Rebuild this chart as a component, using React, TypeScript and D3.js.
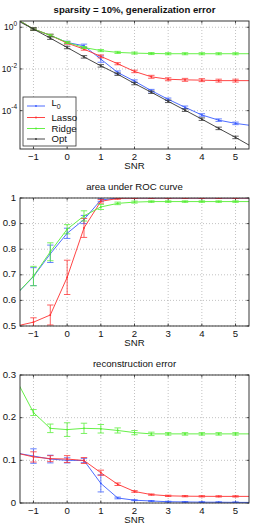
import React from "react";
import * as d3 from "d3";

const snr = [-1.5, -1, -0.5, 0, 0.5, 1, 1.5, 2, 2.5, 3, 3.5, 4, 4.5, 5, 5.5];
const xTicks = [-1, 0, 1, 2, 3, 4, 5];

// Panel 1: generalization error (log scale)
const genL0 = [2.5, 0.82, 0.41, 0.186, 0.129, 0.0295, 0.0068, 0.0026, 9.1e-4, 3.5e-4, 1.45e-4, 6.2e-5, 3.5e-5, 2.45e-5, 1.9e-5];
const genLasso = [2.5, 0.82, 0.41, 0.174, 0.089, 0.04, 0.0178, 0.0076, 0.0042, 0.0032, 0.003, 0.0029, 0.00275, 0.00275, 0.00275];
const genRidge = [2.5, 0.82, 0.41, 0.186, 0.107, 0.076, 0.062, 0.0575, 0.055, 0.0537, 0.0537, 0.0537, 0.0537, 0.0537, 0.0537];
const genOpt = [2.19, 0.82, 0.3, 0.107, 0.038, 0.0141, 0.0056, 0.002, 7.6e-4, 2.8e-4, 1.05e-4, 3.9e-5, 1.41e-5, 5.2e-6, 1.8e-6];
// error half-widths in decades
const genL0Err = [0, 0.05, 0.05, 0.06, 0.08, 0.15, 0.07, 0.06, 0.06, 0.06, 0.06, 0.06, 0.06, 0.06, 0];
const genLassoErr = [0, 0.05, 0.05, 0.05, 0.05, 0.07, 0.05, 0.06, 0.07, 0.07, 0.07, 0.07, 0.07, 0.07, 0];
const genRidgeErr = [0, 0.05, 0.05, 0.05, 0.05, 0.05, 0.05, 0.05, 0.05, 0.05, 0.05, 0.05, 0.05, 0.05, 0];
const genOptErr = [0, 0.06, 0.06, 0.06, 0.06, 0.06, 0.06, 0.06, 0.06, 0.06, 0.06, 0.06, 0.06, 0.06, 0];
const genYTicks = [1e-4, 1e-2, 1];
const genYTickExp = ["-4", "-2", "0"];

// Panel 2: area under ROC curve
const aucL0 = [0.625, 0.693, 0.782, 0.862, 0.916, 0.992, 1, 1, 1, 1, 1, 1, 1, 1, 1];
const aucLasso = [0.5, 0.515, 0.543, 0.69, 0.883, 0.987, 0.998, 1, 1, 1, 1, 1, 1, 1, 1];
const aucRidge = [0.625, 0.695, 0.79, 0.878, 0.93, 0.965, 0.979, 0.984, 0.986, 0.986, 0.986, 0.986, 0.986, 0.986, 0.986];
const aucL0Err = [0, 0.035, 0.034, 0.02, 0.016, 0.005, 0.002, 0.001, 0.001, 0.001, 0.001, 0.001, 0.001, 0.001, 0];
const aucLassoErr = [0, 0.017, 0.039, 0.067, 0.037, 0.007, 0.003, 0.002, 0.001, 0.001, 0.001, 0.001, 0.001, 0.001, 0];
const aucRidgeErr = [0, 0.038, 0.035, 0.018, 0.02, 0.01, 0.005, 0.004, 0.003, 0.003, 0.003, 0.003, 0.003, 0.003, 0];
const aucYTicks = [0.5, 0.6, 0.7, 0.8, 0.9, 1];
const aucYLabels = ["0.5", "0.6", "0.7", "0.8", "0.9", "1"];

// Panel 3: reconstruction error
const recL0 = [0.117, 0.11, 0.103, 0.1, 0.0996, 0.046, 0.0118, 0.0065, 0.0047, 0.003, 0.0025, 0.002, 0.0018, 0.0015, 0.0013];
const recLasso = [0.117, 0.108, 0.104, 0.103, 0.0996, 0.071, 0.044, 0.027, 0.0197, 0.0168, 0.016, 0.0157, 0.0155, 0.0155, 0.0155];
const recRidge = [0.287, 0.212, 0.175, 0.172, 0.175, 0.174, 0.17, 0.165, 0.162, 0.162, 0.162, 0.162, 0.162, 0.162, 0.162];
const recL0Err = [0, 0.017, 0.009, 0.006, 0.005, 0.02, 0.002, 0.001, 0.001, 0.001, 0.001, 0.001, 0.001, 0.001, 0];
const recLassoErr = [0, 0.012, 0.007, 0.008, 0.007, 0.006, 0.003, 0.002, 0.0015, 0.0015, 0.0015, 0.0015, 0.0015, 0.0015, 0];
const recRidgeErr = [0, 0.007, 0.01, 0.016, 0.012, 0.01, 0.006, 0.005, 0.004, 0.003, 0.003, 0.003, 0.003, 0.003, 0];
const recYTicks = [0, 0.1, 0.2, 0.3];
const recYLabels = ["0", "0.1", "0.2", "0.3"];

const titles = ["sparsity = 10%, generalization error", "area under ROC curve", "reconstruction error"];
const legendNames = ["L", "Lasso", "Ridge", "Opt"];

const C_BLUE = "#3a5cff";
const C_RED = "#ff3030";
const C_GREEN = "#55ee33";
const C_BLACK = "#333333";

const FONT = "'Liberation Sans', Arial, Helvetica, sans-serif";
const L = 20, R = 249, H = 128;
const tops = [21, 198, 375];

const x = d3.scaleLinear().domain([-1.4, 5.4]).range([L, R]);

type Series = { vals: number[]; err: number[]; color: string; log?: boolean };

function SeriesG({ s, y, clip }: { s: Series; y: any; clip: string }) {
  const line = d3.line<number>().x((_, i) => x(snr[i])).y((v) => y(v));
  const lo = (v: number, e: number) => (s.log ? v * Math.pow(10, -e) : v - e);
  const hi = (v: number, e: number) => (s.log ? v * Math.pow(10, e) : v + e);
  return (
    <g clipPath={`url(#${clip})`}>
      <path d={line(s.vals) || ""} fill="none" stroke={s.color} strokeWidth={0.9} />
      {s.vals.map((v, i) => {
        const e = s.err[i];
        if (!e) return null;
        const cx = x(snr[i]);
        const y1 = y(lo(v, e));
        const y2 = y(hi(v, e));
        return (
          <g key={i} stroke={s.color} strokeWidth={0.9} opacity={0.85}>
            <line x1={cx} x2={cx} y1={y1} y2={y2} />
            <line x1={cx - 3.2} x2={cx + 3.2} y1={y1} y2={y1} />
            <line x1={cx - 3.2} x2={cx + 3.2} y1={y2} y2={y2} />
          </g>
        );
      })}
      {s.vals.map((v, i) => (
        <circle key={"m" + i} cx={x(snr[i])} cy={y(v)} r={0.9} fill={s.color} />
      ))}
    </g>
  );
}

function Panel({ idx, y, yTicks, yLabel, series, bold }: any) {
  const top = tops[idx];
  const bottom = top + H;
  const clip = "clip" + idx;
  return (
    <g>
      <defs>
        <clipPath id={clip}>
          <rect x={L} y={top} width={R - L} height={H} />
        </clipPath>
      </defs>
      <rect x={L} y={top} width={R - L} height={H} fill="#fff" />
      <g stroke="#999" strokeWidth={0.6} strokeDasharray="1,2">
        {xTicks.map((t) => (
          <line key={"gx" + t} x1={x(t)} x2={x(t)} y1={top} y2={bottom} />
        ))}
        {yTicks.map((t: number) => (
          <line key={"gy" + t} x1={L} x2={R} y1={y(t)} y2={y(t)} />
        ))}
      </g>
      <g stroke="#222" strokeWidth={0.8}>
        {xTicks.map((t) => (
          <g key={"tx" + t}>
            <line x1={x(t)} x2={x(t)} y1={bottom} y2={bottom - 2.5} />
            <line x1={x(t)} x2={x(t)} y1={top} y2={top + 2.5} />
          </g>
        ))}
        {yTicks.map((t: number) => (
          <g key={"ty" + t}>
            <line x1={L} x2={L + 2.5} y1={y(t)} y2={y(t)} />
            <line x1={R} x2={R - 2.5} y1={y(t)} y2={y(t)} />
          </g>
        ))}
      </g>
      {series.map((s: Series, i: number) => (
        <SeriesG key={i} s={s} y={y} clip={clip} />
      ))}
      <rect x={L} y={top} width={R - L} height={H} fill="none" stroke="#222" strokeWidth={0.9} />
      <g fontFamily={FONT} fontSize={9.6} fill="#111" textAnchor="middle">
        {xTicks.map((t) => (
          <text key={"lx" + t} x={x(t)} y={bottom + 8} dominantBaseline="middle">
            {t < 0 ? "\u2212" + Math.abs(t) : String(t)}
          </text>
        ))}
        <text x={x(2)} y={bottom + 17.5} dominantBaseline="middle">SNR</text>
      </g>
      <g fontFamily={FONT} fontSize={9.6} fill="#111" textAnchor="end">
        {yTicks.map((t: number, i: number) => yLabel(t, i))}
      </g>
      <text
        x={(L + R) / 2}
        y={top - 11}
        textAnchor="middle"
        dominantBaseline="middle"
        fontFamily={FONT}
        fontSize={9.6}
        fontWeight={bold ? "bold" : "normal"}
        fill="#111"
      >
        {titles[idx]}
      </text>
    </g>
  );
}

export default function App() {
  const y1 = d3.scaleLog().domain([Math.pow(10, -5.84), Math.pow(10, 0.3)]).range([tops[0] + H, tops[0]]);
  const y2 = d3.scaleLinear().domain([0.5, 1]).range([tops[1] + H, tops[1]]);
  const y3 = d3.scaleLinear().domain([0, 0.3]).range([tops[2] + H, tops[2]]);

  const s1: Series[] = [
    { vals: genL0, err: genL0Err, color: C_BLUE, log: true },
    { vals: genLasso, err: genLassoErr, color: C_RED, log: true },
    { vals: genRidge, err: genRidgeErr, color: C_GREEN, log: true },
    { vals: genOpt, err: genOptErr, color: C_BLACK, log: true },
  ];
  const s2: Series[] = [
    { vals: aucL0, err: aucL0Err, color: C_BLUE },
    { vals: aucLasso, err: aucLassoErr, color: C_RED },
    { vals: aucRidge, err: aucRidgeErr, color: C_GREEN },
  ];
  const s3: Series[] = [
    { vals: recL0, err: recL0Err, color: C_BLUE },
    { vals: recLasso, err: recLassoErr, color: C_RED },
    { vals: recRidge, err: recRidgeErr, color: C_GREEN },
  ];

  const legColors = [C_BLUE, C_RED, C_GREEN, C_BLACK];
  const legY = [106, 117.5, 128.5, 139];

  return (
    <svg width={254} height={528} style={{ position: "absolute", left: 0, top: 0, background: "#fff" }}>
      <rect width={254} height={528} fill="#fff" />
      <Panel
        idx={0}
        y={y1}
        yTicks={genYTicks}
        bold
        series={s1}
        yLabel={(t: number, i: number) => (
          <text key={"ly" + i} x={17} y={y1(t) + 3} fontSize={8.5}>
            10
            <tspan fontSize={6.5} dy={-4.2}>{genYTickExp[i]}</tspan>
          </text>
        )}
      />
      <Panel
        idx={1}
        y={y2}
        yTicks={aucYTicks}
        series={s2}
        yLabel={(t: number, i: number) => (
          <text key={"ly" + i} x={16} y={y2(t)} dominantBaseline="middle">
            {aucYLabels[i]}
          </text>
        )}
      />
      <Panel
        idx={2}
        y={y3}
        yTicks={recYTicks}
        series={s3}
        yLabel={(t: number, i: number) => (
          <text key={"ly" + i} x={16} y={y3(t)} dominantBaseline="middle">
            {recYLabels[i]}
          </text>
        )}
      />
      <g>
        <rect x={23} y={97} width={53} height={49} fill="#fff" stroke="#333" strokeWidth={0.8} />
        {legendNames.map((n, i) => (
          <g key={n}>
            <line x1={27} x2={45} y1={legY[i]} y2={legY[i]} stroke={legColors[i]} strokeWidth={0.9} />
            <circle cx={36} cy={legY[i]} r={0.9} fill={legColors[i]} />
            <text
              x={51.5}
              y={i === 0 ? legY[i] - 0.5 : legY[i] + 3.3}
              fontFamily={FONT}
              fontSize={9.6}
              fill="#111"
            >
              {n}
              {i === 0 ? <tspan fontSize={7} dy={3.8}>0</tspan> : null}
            </text>
          </g>
        ))}
      </g>
    </svg>
  );
}
